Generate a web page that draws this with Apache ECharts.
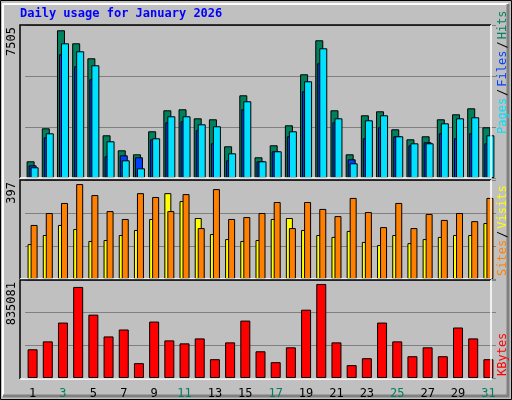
<!DOCTYPE html>
<html><head><meta charset="utf-8">
<script src="https://cdn.jsdelivr.net/npm/echarts@6/dist/echarts.min.js"></script>
<style>html,body{margin:0;padding:0;background:#fff}#c{width:512px;height:400px}</style>
</head><body><div id="c"></div>
<script>
const days = Array.from({length:31},(_,i)=>String(i+1));
const weekend = ['3','4','10','11','17','18','24','25','31'];
const hits = [849,2525,7505,6844,6082,2170,1407,1204,2373,3440,3491,3033,2983,1611,4202,1052,1662,2678,5269,6997,3440,1204,3186,3389,2474,1966,2119,2983,3237,3541,2576];
const files = [544,2271,6844,6438,5726,1865,899,493,2017,3135,3135,2729,2627,1255,3897,849,1357,2373,4913,6590,3033,747,2932,3186,2119,1763,1763,2779,3033,3084,2170];
const pages = [645,2068,6285,5675,5015,1103,1153,1052,1966,2830,2881,2424,1763,899,3491,849,1357,2119,4405,5828,2830,950,2017,2576,2119,1661,1814,2271,2017,2271,1763];
const sites = [146,184,226,209,159,163,184,205,251,359,326,255,188,167,159,163,251,255,205,184,176,201,155,142,184,150,167,176,184,184,234];
const visits = [226,276,318,397,351,284,251,359,343,284,355,213,376,251,259,276,322,213,322,293,263,339,280,217,318,213,272,247,276,242,339];
const kbytes = [254910,325230,492240,808680,562560,369180,430710,131850,501030,334020,307650,351600,167010,316440,509820,237330,140640,272490,606510,835081,316440,114270,175800,492240,325230,193380,272490,193380,448290,351600,167010];
const maxLabels = ['7505','397','835081'];
const title = 'Daily usage for January 2026';

const chart = echarts.init(document.getElementById('c'));
const F = 'DejaVu Sans Mono';
const panels = [{top:25,h:153,max:7773},{top:180,h:99,max:414},{top:280,h:99,max:870210}];
const grids = panels.map(p=>({left:25,right:16,top:p.top,height:p.h}));
const xAxes = panels.map((p,i)=>({type:'category',data:days,gridIndex:i,boundaryGap:true,
  axisLine:{show:false},axisTick:{show:false},
  axisLabel:{show:i===2,fontFamily:F,fontSize:12,margin:10,
    color:(v)=>weekend.includes(v)?'#00805c':'#000'}}));
const yAxes = panels.map((p,i)=>({type:'value',gridIndex:i,min:0,max:p.max,interval:p.max/3,
  axisLabel:{show:false},axisLine:{show:false},axisTick:{show:false},
  splitLine:{show:true,lineStyle:{color:'#808080',width:1}}}));
const bs = (name,data,color,gi,w,gap,z)=>({type:'bar',name,data,xAxisIndex:gi,yAxisIndex:gi,barWidth:w,barGap:gap,
  itemStyle:{color,borderColor:'#000',borderWidth:1},z:z,animation:false});
const frame = (y,h)=>[
  {type:'rect',shape:{x:20,y:y,width:471,height:h},style:{fill:'#c0c0c0',stroke:null},z:-1},
  {type:'polyline',shape:{points:[[20,y+h],[20,y],[491,y]]},style:{stroke:'#000',lineWidth:1.5,fill:null},z:100},
  {type:'polyline',shape:{points:[[491,y],[491,y+h],[20,y+h]]},style:{stroke:'#fff',lineWidth:1.5,fill:null},z:100}];
chart.setOption({
  backgroundColor:'#c0c0c0',
  grid:grids, xAxis:xAxes, yAxis:yAxes,
  graphic:[
    {type:'rect',shape:{x:0.5,y:0.5,width:511,height:399},style:{fill:null,stroke:'#000',lineWidth:1},z:-5},
    {type:'polyline',shape:{points:[[3,396],[3,4],[508,4]]},style:{stroke:'#fff',lineWidth:2,fill:null},z:-4},
    {type:'polyline',shape:{points:[[508,4],[508,396],[3,396]]},style:{stroke:'#808080',lineWidth:3,fill:null},z:-4},
    ...frame(25,153),...frame(180,99),...frame(280,99),
    {type:'text',left:20,top:8,style:{text:title,fill:'#0000ff',font:'bold 12px "DejaVu Sans Mono"'}},
    ...maxLabels.map((t,i)=>({type:'text',x:6,y:panels[i].top+2,rotation:Math.PI/2,
      style:{text:t,fill:'#000',font:'12px "DejaVu Sans Mono"',align:'right',verticalAlign:'top'}})),
    {type:'text',x:497,y:134,rotation:Math.PI/2,style:{text:'{a|Pages}{k|/}{b|Files}{k|/}{c|Hits}',align:'left',verticalAlign:'top',
      rich:{a:{fill:'#00e0ff',font:'12px "DejaVu Sans Mono"'},b:{fill:'#0040ff',font:'12px "DejaVu Sans Mono"'},c:{fill:'#00805c',font:'12px "DejaVu Sans Mono"'},k:{fill:'#000',font:'12px "DejaVu Sans Mono"',padding:[0,2]}}}},
    {type:'text',x:497,y:276,rotation:Math.PI/2,style:{text:'{a|Sites}{k|/}{b|Visits}',align:'left',verticalAlign:'top',
      rich:{a:{fill:'#ff8000',font:'12px "DejaVu Sans Mono"'},b:{fill:'#ffff00',font:'12px "DejaVu Sans Mono"'},k:{fill:'#000',font:'12px "DejaVu Sans Mono"',padding:[0,2]}}}},
    {type:'text',x:497,y:376,rotation:Math.PI/2,style:{text:'KBytes',fill:'#ff0000',font:'12px "DejaVu Sans Mono"',align:'left',verticalAlign:'top'}}
  ],
  series:[
    bs('Hits',hits,'#00805c',0,8,'-75%',2),
    bs('Pages',pages,'#0040ff',0,8,'-75%',3),
    bs('Files',files,'#00e0ff',0,8,'-75%',4),
    bs('Sites',sites,'#ffff00',1,7,'-57%',2),
    bs('Visits',visits,'#ff8000',1,7,'-57%',3),
    bs('KBytes',kbytes,'#ff0000',2,10,'0%',2)
  ]
});
</script></body></html>
